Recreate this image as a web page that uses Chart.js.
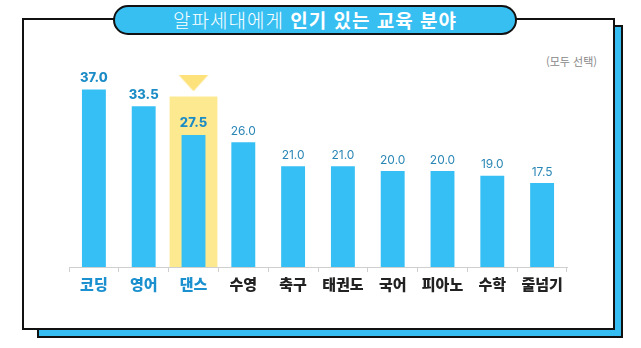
<!DOCTYPE html>
<html lang="ko">
<head>
<meta charset="utf-8">
<script src="https://cdn.jsdelivr.net/npm/chart.js@4"></script>
<style>
  html,body{margin:0;padding:0;background:#fff;}
  body{width:641px;height:348px;position:relative;overflow:hidden;font-family:"Noto Sans CJK KR","Noto Sans",sans-serif;}
  #shadow{position:absolute;left:37px;top:25px;width:582px;height:309px;background:#36bdf2;border:2px solid #111;box-sizing:content-box;}
  #box{position:absolute;left:22px;top:18px;width:589px;height:308px;background:#fff;border:2px solid #111;}
  #pill{position:absolute;left:113px;top:5px;width:400px;height:26px;background:#38bff2;border:2px solid #111;border-radius:15px;
        color:#fff;font-size:19px;line-height:26px;text-align:center;letter-spacing:1px;}
  #pill .l{font-weight:300;}
  #pill .b{font-weight:700;}
  #note{position:absolute;left:515px;top:53px;width:82px;text-align:right;font-size:11px;color:#888;}
  #wrap{position:absolute;left:0;top:0;width:641px;height:348px;}
</style>
</head>
<body>
<div id="shadow"></div>
<div id="box"></div>
<div id="pill"><span class="l">알파세대에게 </span><span class="b">인기 있는 교육 분야</span></div>
<div id="note">(모두 선택)</div>
<div id="wrap"><canvas id="c" width="641" height="348"></canvas></div>
<script>
const categories = ['코딩','영어','댄스','수영','축구','태권도','국어','피아노','수학','줄넘기'];
const values = [37.0, 33.5, 27.5, 26.0, 21.0, 21.0, 20.0, 20.0, 19.0, 17.5];
const highlightBox = [null, null, 35.5, null, null, null, null, null, null, null];
const markerValues = [null, null, 38.8, null, null, null, null, null, null, null];
const emphasized = [true, true, true, false, false, false, false, false, false, false];

// downward triangle marker image
const tri = document.createElement('canvas');
tri.width = 38; tri.height = 21;
(function(){
  const g = tri.getContext('2d');
  g.fillStyle = '#fde27c';
  g.beginPath(); g.moveTo(0,0); g.lineTo(38,0); g.lineTo(19,21); g.closePath(); g.fill();
})();

const valueLabels = {
  id: 'valueLabels',
  afterDatasetsDraw(chart) {
    const ctx = chart.ctx;
    const meta = chart.getDatasetMeta(1);
    ctx.save();
    ctx.textAlign = 'center';
    ctx.textBaseline = 'bottom';
    meta.data.forEach((bar, i) => {
      const strong = emphasized[i];
      ctx.font = (strong ? '800 13px' : '400 12px') + ' Inter, "Noto Sans", sans-serif';
      ctx.fillStyle = strong ? '#1b8cc6' : '#2a86b5';
      ctx.fillText(values[i].toFixed(1), bar.x, bar.y - 5);
    });
    ctx.restore();
  }
};

new Chart(document.getElementById('c'), {
  type: 'bar',
  data: {
    labels: categories,
    datasets: [
      { type: 'line', data: markerValues, showLine: false, pointStyle: tri, pointRadius: 10, order: 0 },
      { data: values, backgroundColor: '#36bff4', barPercentage: 0.5, categoryPercentage: 0.96, grouped: false, order: 1 },
      { data: highlightBox, backgroundColor: '#fde98f', barPercentage: 1.0, categoryPercentage: 0.96, grouped: false, order: 2 }
    ]
  },
  options: {
    responsive: false,
    animation: false,
    events: [],
    layout: { padding: { left: 69, right: 74, top: 75, bottom: 52 } },
    plugins: { legend: { display: false }, tooltip: { enabled: false } },
    scales: {
      y: { display: false, min: 0, max: 40 },
      x: {
        offset: true,
        border: { display: true, color: '#cfcfcf', width: 1 },
        grid: { display: true, offset: true, drawOnChartArea: false, drawTicks: true, tickLength: 5, color: '#cfcfcf' },
        ticks: {
          padding: 3,
          font: { size: 15, weight: '900', family: '"Noto Sans CJK KR", "Noto Sans", sans-serif' },
          color: (c) => emphasized[c.index] ? '#1a90cf' : '#222222'
        }
      }
    }
  },
  plugins: [valueLabels]
});
</script>
</body>
</html>
